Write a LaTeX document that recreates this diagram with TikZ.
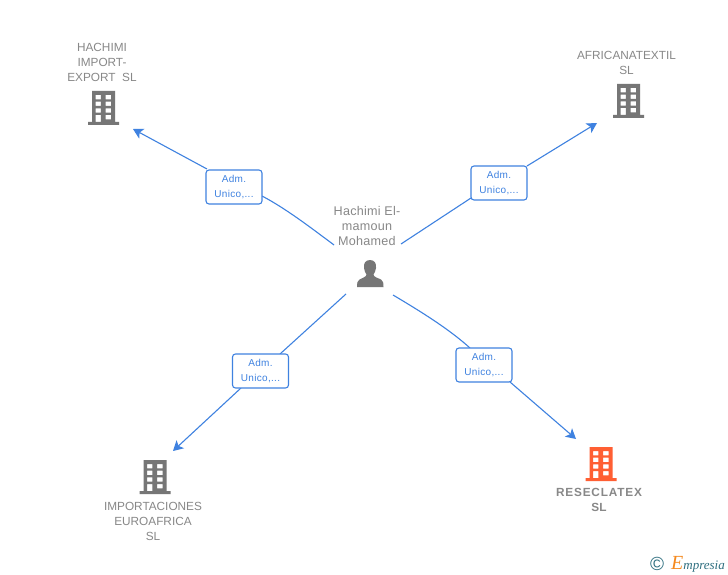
\documentclass[tikz,border=0pt]{standalone}
\usepackage{fontspec}
\setmainfont{Liberation Sans}
\newfontfamily\logofont{Liberation Serif}
\usetikzlibrary{arrows.meta}
\definecolor{edgeblue}{HTML}{3F82E0}
\definecolor{labelgrey}{HTML}{888888}
\definecolor{icongrey}{HTML}{767676}
\definecolor{iconorange}{HTML}{FF5F33}
\definecolor{logoteal}{HTML}{2F6F80}
\definecolor{logoorange}{HTML}{F58A1F}
\tikzset{
  x=1pt,y=-1pt,
  link/.style={edgeblue,line width=1.1pt},
  arrowlink/.style={link,-{Stealth[length=10pt,width=11pt,inset=2.5pt]}},
  rolebox/.style={draw=edgeblue,line width=1.1pt,fill=white,rounded corners=3pt,
    minimum width=56pt,minimum height=34pt,inner sep=0pt,align=center,
    text=edgeblue,font=\fontsize{10}{15}\selectfont\addfontfeature{LetterSpace=3}},
  entity/.style={text=labelgrey,align=center,inner sep=0pt,font=\fontsize{11.8}{15}\selectfont},
  pics/building/.style={code={
    \fill[#1,even odd rule]
      (-11.5,0) -- (11.5,0) -- (11.5,31) -- (15.5,31) -- (15.5,34) -- (-15.5,34) -- (-15.5,31) -- (-11.5,31) -- cycle
      (-8,4) rectangle (-2.7,8.3)
      (2.2,4) rectangle (7.5,8.3)
      (-8,10.7) rectangle (-2.7,15)
      (2.2,10.7) rectangle (7.5,15)
      (-8,17.3) rectangle (-2.7,21.6)
      (2.2,17.3) rectangle (7.5,21.6)
      (-8,24) rectangle (-2.7,31)
      (2.2,24) rectangle (7.5,28.3);
  }},
}
\begin{document}
\begin{tikzpicture}
\useasboundingbox (0,0) rectangle (728,575);
\fill[white] (0,0) rectangle (728,575);

% entities
\node[entity,anchor=north] (hachimi) at (102,43.5) {HACHIMI\\IMPORT-\\EXPORT\ \ SL};
\pic at (103.5,91) {building=icongrey};
\node[entity,anchor=north] (africana) at (626.5,51.5) {AFRICANATEXTIL\\SL};
\pic at (628.5,84) {building=icongrey};
\node[entity,anchor=north] (import) at (153,502.5) {IMPORTACIONES\\EUROAFRICA\\SL};
\pic at (155,460) {building=icongrey};
\node[entity,anchor=north,font=\fontsize{11.8}{15}\selectfont\bfseries,text=labelgrey] (rese) at (599,488.5) {\addfontfeature{LetterSpace=7}RESECLATEX\\SL};
\pic at (601,447) {building=iconorange};

% person
\node[entity,anchor=north,font=\fontsize{12.6}{15}\selectfont\addfontfeature{LetterSpace=2}] (person) at (367,206) {Hachimi El-\\mamoun\\Mohamed};
\fill[icongrey] (370,260) .. controls (365,260) and (363.5,264) .. (364,268)
  .. controls (364.3,271) and (365.5,273) .. (366.5,274.5)
  .. controls (366.5,277) and (362,278) .. (359.5,279.5)
  .. controls (357.5,280.5) and (357,283) .. (357,287)
  -- (383.5,287)
  .. controls (383.5,283) and (383,280.5) .. (381,279.5)
  .. controls (378,278) and (373.5,277) .. (373.5,274.5)
  .. controls (374.5,273) and (375.7,271) .. (376,268)
  .. controls (376.5,264) and (375,260) .. (370,260) -- cycle;

% connector ends
\coordinate (tlstart) at (334,245);
\coordinate (tlin) at (262,196);
\coordinate (tlout) at (207,169);
\coordinate (tlend) at (133,129);
\coordinate (trstart) at (401,244);
\coordinate (trin) at (471,198);
\coordinate (trout) at (527,166);
\coordinate (trend) at (597,123);
\coordinate (blstart) at (346,294);
\coordinate (blin) at (280,354);
\coordinate (blout) at (241,388);
\coordinate (blend) at (173,451);
\coordinate (brstart) at (393,295);
\coordinate (brin) at (470,348);
\coordinate (brout) at (510,382);
\coordinate (brend) at (576,439);

% connectors
\draw[link] (tlstart) .. controls (310,227) and (285,208) .. (tlin);
\draw[arrowlink] (tlout) -- (tlend);
\draw[link] (trstart) -- (trin);
\draw[arrowlink] (trout) -- (trend);
\draw[link] (blstart) -- (blin);
\draw[arrowlink] (blout) -- (blend);
\draw[link] (brstart) .. controls (425,314) and (450,330) .. (brin);
\draw[arrowlink] (brout) -- (brend);

% role boxes
\node[rolebox] (tlbox) at (234,187) {Adm.\\Unico,...};
\node[rolebox] (trbox) at (499,183) {Adm.\\Unico,...};
\node[rolebox] (blbox) at (260.5,371) {Adm.\\Unico,...};
\node[rolebox] (brbox) at (484,365) {Adm.\\Unico,...};

% logo
\node[anchor=west,inner sep=0pt,text=logoteal,font=\fontsize{19}{19}\selectfont] (copyr) at (650,564) {©};
\node[anchor=west,inner sep=0pt,font=\logofont\itshape\fontsize{13}{14}\selectfont,text=logoteal] (logo) at (671,564) {{\color{logoorange}\fontsize{20}{20}\selectfont E}mpresia};
\end{tikzpicture}
\end{document}
